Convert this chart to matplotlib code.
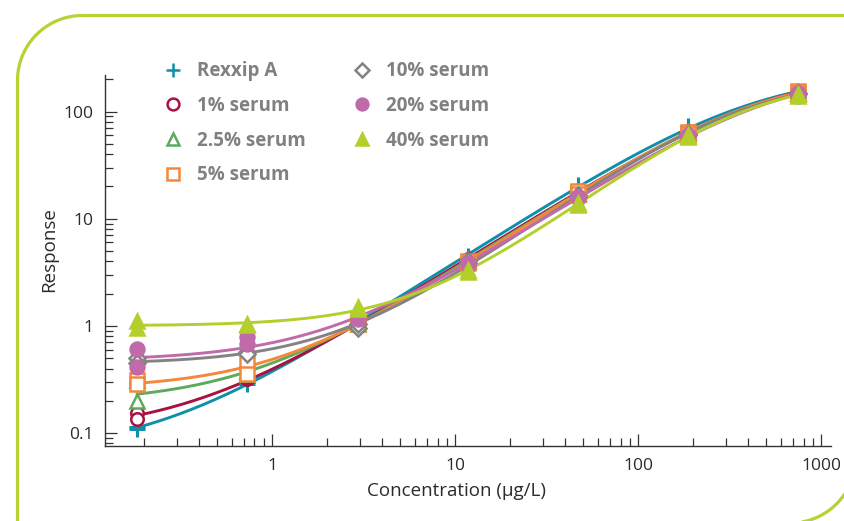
import numpy as np
import matplotlib
matplotlib.use('Agg')
import matplotlib.pyplot as plt
from matplotlib.lines import Line2D
from matplotlib.path import Path
from matplotlib.patches import PathPatch
from matplotlib.ticker import FixedLocator, FixedFormatter, LogLocator, NullFormatter

plt.rcParams['font.family'] = ['Open Sans', 'DejaVu Sans']

# concentrations (ug/L), 4-fold dilution series
conc = [0.183, 0.732, 2.93, 11.7, 46.9, 187.5, 750]

# duplicate responses per concentration
rexxip_a = [[0.108, 0.115], [0.29, 0.30], [1.05, 1.10], [4.5, 4.4], [19.5, 20.5], [70, 73], [150, 155]]
serum_1 = [[0.155, 0.135], [0.32, 0.33], [1.00, 1.05], [4.2, 4.1], [17.5, 18.0], [65, 66], [150, 152]]
serum_2_5 = [[0.31, 0.20], [0.357, 0.38], [1.05, 1.10], [4.0, 4.1], [17.0, 17.5], [64, 63], [150, 148]]
serum_5 = [[0.315, 0.29], [0.46, 0.357], [1.10, 1.05], [4.0, 3.9], [18.0, 17.0], [65, 62], [155, 150]]
serum_10 = [[0.50, 0.45], [0.57, 0.55], [0.95, 1.05], [3.9, 4.0], [16.0, 16.5], [62, 61], [145, 148]]
serum_20 = [[0.61, 0.41], [0.79, 0.68], [1.20, 1.15], [3.85, 3.7], [16.0, 15.5], [60, 59], [150, 140]]
serum_40 = [[1.11, 0.96], [1.02, 1.04], [1.50, 1.45], [3.2, 3.3], [13.5, 14.0], [58, 60], [140, 145]]

labels = ['Rexxip A', '1% serum', '2.5% serum', '5% serum', '10% serum', '20% serum', '40% serum']
series = [rexxip_a, serum_1, serum_2_5, serum_5, serum_10, serum_20, serum_40]
colors = ['#0f8fa9', '#aa1140', '#5cab5c', '#f4883a', '#838383', '#c06aaa', '#b3cf2b']
markers = ['+', 'o', '^', 's', 'D', 'o', '^']
filled = [True, False, False, False, False, True, True]
msizes = [11, 9, 9.5, 10, 8, 10, 10.5]

x_ticks = [1, 10, 100, 1000]
x_ticklabels = ['1', '10', '100', '1000']
y_ticks = [0.1, 1, 10, 100]
y_ticklabels = ['0.1', '1', '10', '100']


def fit_4pl(x, y):
    # weighted (relative error) 4PL fit: grid over slope and EC50, A and D solved linearly
    x = np.asarray(x, float)
    y = np.asarray(y, float)
    best = None
    logc = np.arange(0.3, 4.5, 0.005)[:, None]
    for b in np.arange(0.6, 2.0, 0.01):
        xb = x[None, :] ** b
        f = xb / (xb + (10 ** logc) ** b)
        u = (1 - f) / y
        v = f / y
        suu = (u * u).sum(1); svv = (v * v).sum(1); suv = (u * v).sum(1)
        su = u.sum(1); sv = v.sum(1)
        det = suu * svv - suv ** 2
        a = (su * svv - sv * suv) / det
        d = (sv * suu - su * suv) / det
        sse = ((a[:, None] * u + d[:, None] * v - 1) ** 2).sum(1)
        i = np.argmin(sse)
        if best is None or sse[i] < best[0]:
            best = (sse[i], a[i], d[i], 10 ** logc[i, 0], b)
    return best[1:]


def four_pl(x, a, d, c, b):
    return a + (d - a) * x ** b / (x ** b + c ** b)


fig = plt.figure(figsize=(8.44, 5.21), dpi=100)
ax = fig.add_axes([0.1244, 0.1445, 0.8602, 0.7115])

xs = np.logspace(np.log10(conc[0]), np.log10(conc[-1]), 300)
for vals, lab, col, mk, fl, ms in zip(series, labels, colors, markers, filled, msizes):
    xr = np.repeat(conc, 2)
    yr = np.array(vals).ravel()
    a, d, c, b = fit_4pl(xr, yr)
    ax.plot(xs, four_pl(xs, a, d, c, b), color=col, lw=2.1, zorder=2)
    ax.plot(xr, yr, linestyle='none', marker=mk, markersize=ms,
            markerfacecolor=col if fl else 'white', markeredgecolor=col,
            markeredgewidth=2.2 if mk == '+' else 1.8, zorder=3)

ax.set_xscale('log')
ax.set_yscale('log')
ax.set_xlim(0.122, 1130)
ax.set_ylim(0.0762, 219)

ax.xaxis.set_major_locator(FixedLocator(x_ticks))
ax.xaxis.set_major_formatter(FixedFormatter(x_ticklabels))
ax.yaxis.set_major_locator(FixedLocator(y_ticks))
ax.yaxis.set_major_formatter(FixedFormatter(y_ticklabels))
for axis in (ax.xaxis, ax.yaxis):
    axis.set_minor_locator(LogLocator(base=10, subs=np.arange(2, 10), numticks=20))
    axis.set_minor_formatter(NullFormatter())

ax.tick_params(which='both', direction='in', colors='#333333', width=0.9, labelsize=12.5,
               labelcolor='#2b2b2b')
ax.tick_params(which='major', length=8.8)
ax.tick_params(which='minor', length=6)
ax.tick_params(axis='y', pad=8)
ax.tick_params(axis='x', pad=9)

for s in ['top', 'right']:
    ax.spines[s].set_visible(False)
for s in ['left', 'bottom']:
    ax.spines[s].set_color('#333333')
    ax.spines[s].set_linewidth(1.0)

ax.set_xlabel('Concentration (µg/L)', fontsize=13.5, color='#2b2b2b')
ax.set_ylabel('Response', fontsize=13.5, color='#2b2b2b')
ax.xaxis.set_label_coords(0.4835, -0.098)
ax.yaxis.set_label_coords(-0.064, 0.53)

handles = []
for lab, col, mk, fl in zip(labels, colors, markers, filled):
    handles.append(Line2D([], [], linestyle='none', marker=mk,
                          markersize=10 if mk == '+' else 8.5 if mk != 'D' else 7.5,
                          markerfacecolor=col if fl else 'white', markeredgecolor=col,
                          markeredgewidth=1.8, label=lab))
leg = ax.legend(handles=handles, ncol=2, loc='upper left', bbox_to_anchor=(0.0807, 1.037),
                frameon=False, borderaxespad=0, borderpad=0, handlelength=1.0,
                handletextpad=0.78, labelspacing=0.78, columnspacing=2.5,
                prop={'family': 'Open Sans', 'weight': 'bold', 'size': 13.5})
for t in leg.get_texts():
    t.set_color('#808080')

# rounded frame: top-left and bottom-right corners rounded
W, H = 844.0, 521.0
r = 65.0
left, top, right, bottom = 17.5, 15.5, 855.5, 523.0
pts = [(left, bottom + 40)]
t = np.linspace(np.pi, 1.5 * np.pi, 40)
pts += list(zip(left + r + r * np.cos(t), top + r + r * np.sin(t)))
pts += [(right, top)]
t = np.linspace(0, 0.5 * np.pi, 40)
pts += list(zip(right - r + r * np.cos(t), bottom - r + r * np.sin(t)))
pts += [(left, bottom), (left, bottom + 40)]
pts = np.array(pts)
verts = np.column_stack([pts[:, 0] / W, 1 - pts[:, 1] / H])
frame = PathPatch(Path(verts), transform=fig.transFigure, fill=False,
                  edgecolor='#b5d333', lw=2.3, clip_on=False)
fig.add_artist(frame)

fig.savefig('out.png', dpi=100)
